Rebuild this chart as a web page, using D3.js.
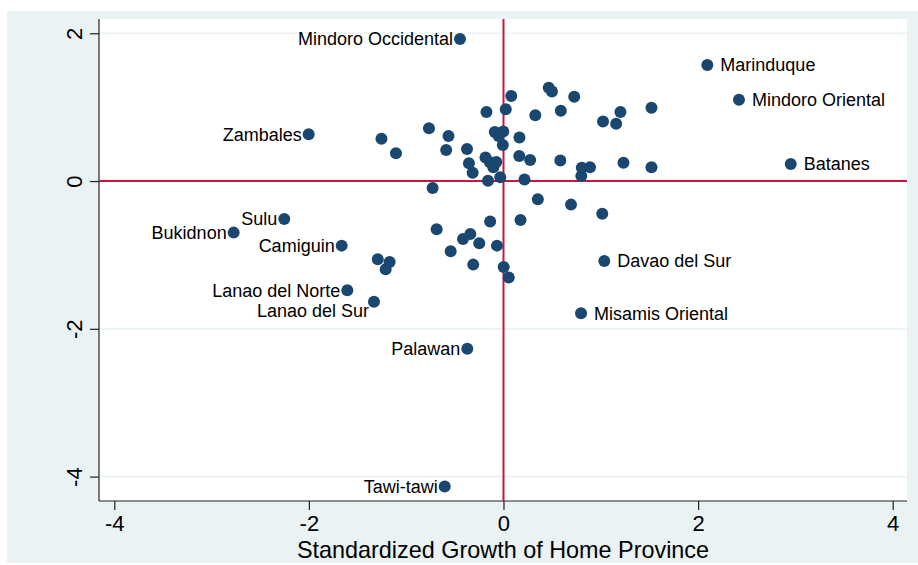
<!DOCTYPE html>
<html>
<head>
<meta charset="utf-8">
<script src="https://cdn.jsdelivr.net/npm/d3@7"></script>
<style>
  html, body { margin: 0; padding: 0; background: #ffffff; }
  text { font-family: Arial, "Liberation Sans", Helvetica, sans-serif; }
</style>
</head>
<body>
<svg id="chart" width="918" height="565"></svg>
<script>
// ---- data ----
const labeledNames = ["Mindoro Occidental","Marinduque","Mindoro Oriental","Batanes","Zambales","Sulu","Bukidnon","Camiguin","Lanao del Norte","Lanao del Sur","Palawan","Misamis Oriental","Davao del Sur","Tawi-tawi"];
const labeledX = [-0.447, 2.095, 2.420, 2.952, -2.002, -2.253, -2.773, -1.663, -1.605, -1.331, -0.372, 0.797, 1.036, -0.604];
const labeledY = [1.923, 1.571, 1.101, 0.231, 0.633, -0.513, -0.698, -0.874, -1.478, -1.632, -2.268, -1.789, -1.081, -4.135];
// label clock positions (9 = left, 3 = right, 8 = lower left)
const labelPos = [9, 3, 3, 3, 9, 9, 9, 9, 9, 8, 9, 3, 3, 9];

const otherX = [-1.254,-1.105,-0.766,-0.565,-0.589,-0.375,-0.355,-0.317,-0.175,-0.090,-0.002,-0.051,-0.007,-0.185,-0.139,-0.074,-0.105,-0.159,-0.033,-0.728,
  0.080,0.023,0.327,0.164,0.162,0.274,0.216,0.465,0.498,0.727,0.589,1.023,1.158,1.202,1.521,0.584,0.805,0.889,0.800,1.233,1.521,
  0.353,0.694,1.015,-0.137,0.175,-0.687,-0.416,-0.341,-0.249,-0.067,-0.543,-1.292,-1.170,-1.211,-0.311,0.002,0.054];
const otherY = [0.572,0.376,0.716,0.610,0.421,0.434,0.241,0.112,0.935,0.664,0.671,0.610,0.488,0.319,0.254,0.258,0.187,0.005,0.051,-0.093,
  1.152,0.973,0.892,0.590,0.340,0.286,0.022,1.264,1.212,1.141,0.951,0.806,0.775,0.935,0.992,0.279,0.180,0.187,0.069,0.248,0.187,
  -0.245,-0.319,-0.441,-0.549,-0.526,-0.652,-0.783,-0.716,-0.842,-0.874,-0.949,-1.057,-1.095,-1.194,-1.131,-1.162,-1.304];

const xTicks = [-4, -2, 0, 2, 4];
const yTicks = [2, 0, -2, -4];
const xTitle = "Standardized Growth of Home Province";

// ---- layout ----
const svg = d3.select("#chart");
const plot = { left: 99, right: 907, top: 19, bottom: 501 };
const navy = "#1A476F";
const red = "#C8173F";
const gridCol = "#EAF2F3";
const fmt = d => String(d); // plain hyphen minus, as in the reference

const x = d3.scaleLinear().domain([-4.157, 4.147]).range([plot.left, plot.right]);
const y = d3.scaleLinear().domain([2.193, -4.330]).range([plot.top, plot.bottom]);

// outer graph region
svg.append("rect").attr("x", 7).attr("y", 11).attr("width", 911).attr("height", 552).attr("fill", gridCol);
// plot region
svg.append("rect").attr("x", plot.left).attr("y", plot.top)
  .attr("width", plot.right - plot.left).attr("height", plot.bottom - plot.top).attr("fill", "#ffffff");

// gridlines
svg.append("g").selectAll("line").data(yTicks.filter(d => d !== 0)).join("line")
  .attr("x1", plot.left).attr("x2", plot.right)
  .attr("y1", d => y(d)).attr("y2", d => y(d))
  .attr("stroke", gridCol).attr("stroke-width", 1.6);

// axes
const xAxis = d3.axisBottom(x).tickValues(xTicks).tickSize(9).tickPadding(5).tickFormat(fmt);
const gx = svg.append("g").attr("transform", `translate(0,${plot.bottom})`).call(xAxis);
gx.select(".domain").attr("d", `M${plot.left},0H${plot.right}`).attr("stroke", "#222").attr("stroke-width", 1.2);
gx.selectAll(".tick line").attr("stroke", "#222").attr("stroke-width", 1.2);
gx.selectAll(".tick text").attr("font-size", 22).attr("fill", "#000").attr("font-family", "Arial, 'Liberation Sans', sans-serif");

const yAxis = d3.axisLeft(y).tickValues(yTicks).tickSize(9).tickFormat(fmt);
const gy = svg.append("g").attr("transform", `translate(${plot.left},0)`).call(yAxis);
gy.select(".domain").attr("d", `M0,${plot.top}V${plot.bottom}`).attr("stroke", "#222").attr("stroke-width", 1.2);
gy.selectAll(".tick line").attr("stroke", "#222").attr("stroke-width", 1.2);
gy.selectAll(".tick text")
  .attr("font-size", 22).attr("fill", "#000").attr("font-family", "Arial, 'Liberation Sans', sans-serif")
  .attr("x", null).attr("dy", null)
  .attr("text-anchor", "middle")
  .attr("transform", "translate(-17,0) rotate(-90)");

// reference lines
svg.append("line").attr("x1", plot.left).attr("x2", plot.right).attr("y1", y(0)).attr("y2", y(0))
  .attr("stroke", red).attr("stroke-width", 2);
svg.append("line").attr("x1", x(0)).attr("x2", x(0)).attr("y1", plot.top).attr("y2", plot.bottom)
  .attr("stroke", red).attr("stroke-width", 2);

// unlabeled points
const others = otherX.map((v, i) => ({ x: v, y: otherY[i] }));
svg.append("g").selectAll("circle").data(others).join("circle")
  .attr("cx", d => x(d.x)).attr("cy", d => y(d.y)).attr("r", 6).attr("fill", navy);

// labeled points
const labeled = labeledNames.map((n, i) => ({ name: n, x: labeledX[i], y: labeledY[i], pos: labelPos[i] }));
const offs = { 9: [-7, 6.5, "end"], 3: [13, 6.5, "start"], 8: [-5, 15.5, "end"] };
const lg = svg.append("g");
lg.selectAll("circle").data(labeled).join("circle")
  .attr("cx", d => x(d.x)).attr("cy", d => y(d.y)).attr("r", 6).attr("fill", navy);
lg.selectAll("text").data(labeled).join("text")
  .attr("x", d => x(d.x) + offs[d.pos][0])
  .attr("y", d => y(d.y) + offs[d.pos][1])
  .attr("text-anchor", d => offs[d.pos][2])
  .attr("font-size", 18).attr("fill", "#000")
  .text(d => d.name);

// axis title
svg.append("text").attr("x", (plot.left + plot.right) / 2).attr("y", 558)
  .attr("text-anchor", "middle").attr("font-size", 23.4).attr("fill", "#000")
  .text(xTitle);
</script>
</body>
</html>
